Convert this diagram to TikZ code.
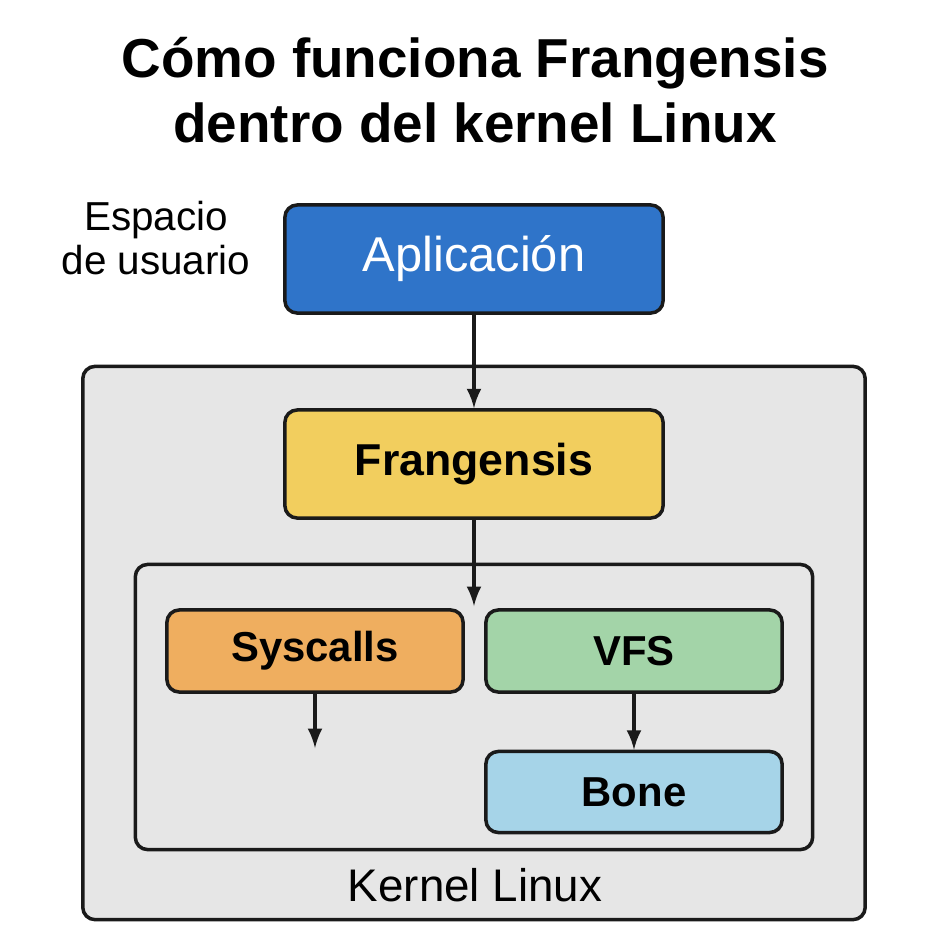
\documentclass[tikz,border=0pt]{standalone}
\usepackage{fontspec}
\setmainfont{Liberation Sans}
\usetikzlibrary{positioning}
\definecolor{appblue}{HTML}{2F74C9}
\definecolor{frgold}{HTML}{F2CE5E}
\definecolor{sysorange}{HTML}{EFAE5F}
\definecolor{vfsgreen}{HTML}{A3D4A8}
\definecolor{boneblue}{HTML}{A6D4E8}
\definecolor{kgray}{HTML}{E6E6E6}
\definecolor{edge}{HTML}{1A1A1A}
\tikzset{
  box/.style={draw=edge, line width=1pt, rounded corners=3.5pt, inner sep=0pt},
  layer/.style={box, fill=kgray},
  arr/.style={-latex, line width=0.9pt, draw=edge}
}
\begin{document}
\begin{tikzpicture}[x=0.01cm,y=-0.01cm]
  \useasboundingbox (0,0) rectangle (950,950);
  % title
  \node[font=\fontsize{15.6}{18.5}\selectfont\bfseries, align=center] (title) at (475,90)
    {Cómo funciona Frangensis\\dentro del kernel Linux};
  \node[font=\fontsize{11.5}{12.3}\selectfont, align=center] (user) at (156,238)
    {Espacio\\de usuario};
  % kernel
  \node[layer, minimum width=7.82cm, minimum height=5.53cm] (kernel) at (474,643) {};
  \node[font=\fontsize{13}{15}\selectfont] (klabel) at (475,885) {Kernel Linux};
  \node[layer, minimum width=6.77cm, minimum height=2.85cm] (inner) at (474,707) {};
  % boxes
  \node[box, fill=appblue, text=white, minimum width=3.78cm, minimum height=1.08cm,
    font=\fontsize{13.9}{16}\selectfont] (app) at (474,259) {Aplicación};
  \node[box, fill=frgold, minimum width=3.78cm, minimum height=1.08cm,
    font=\fontsize{12.7}{15}\selectfont\bfseries] (fran) at (474,464) {Frangensis};
  \node[box, fill=sysorange, minimum width=2.96cm, minimum height=0.82cm,
    font=\fontsize{11.9}{14}\selectfont\bfseries] (sys) at (315,651) {Syscalls};
  \node[box, fill=vfsgreen, minimum width=2.96cm, minimum height=0.82cm,
    font=\fontsize{11.9}{14}\selectfont\bfseries] (vfs) at (634,651) {VFS};
  \node[box, fill=boneblue, minimum width=2.96cm, minimum height=0.81cm,
    font=\fontsize{11.9}{14}\selectfont\bfseries] (bone) at (634,792) {Bone};
  \coordinate (franend) at (474,606);
  \coordinate (sysend) at (315,748);
  % arrows
  \draw[arr] (app) -- (fran);
  \draw[arr] (fran) -- (franend);
  \draw[arr] (sys) -- (sysend);
  \draw[arr] (vfs) -- (bone);
\end{tikzpicture}
\end{document}
